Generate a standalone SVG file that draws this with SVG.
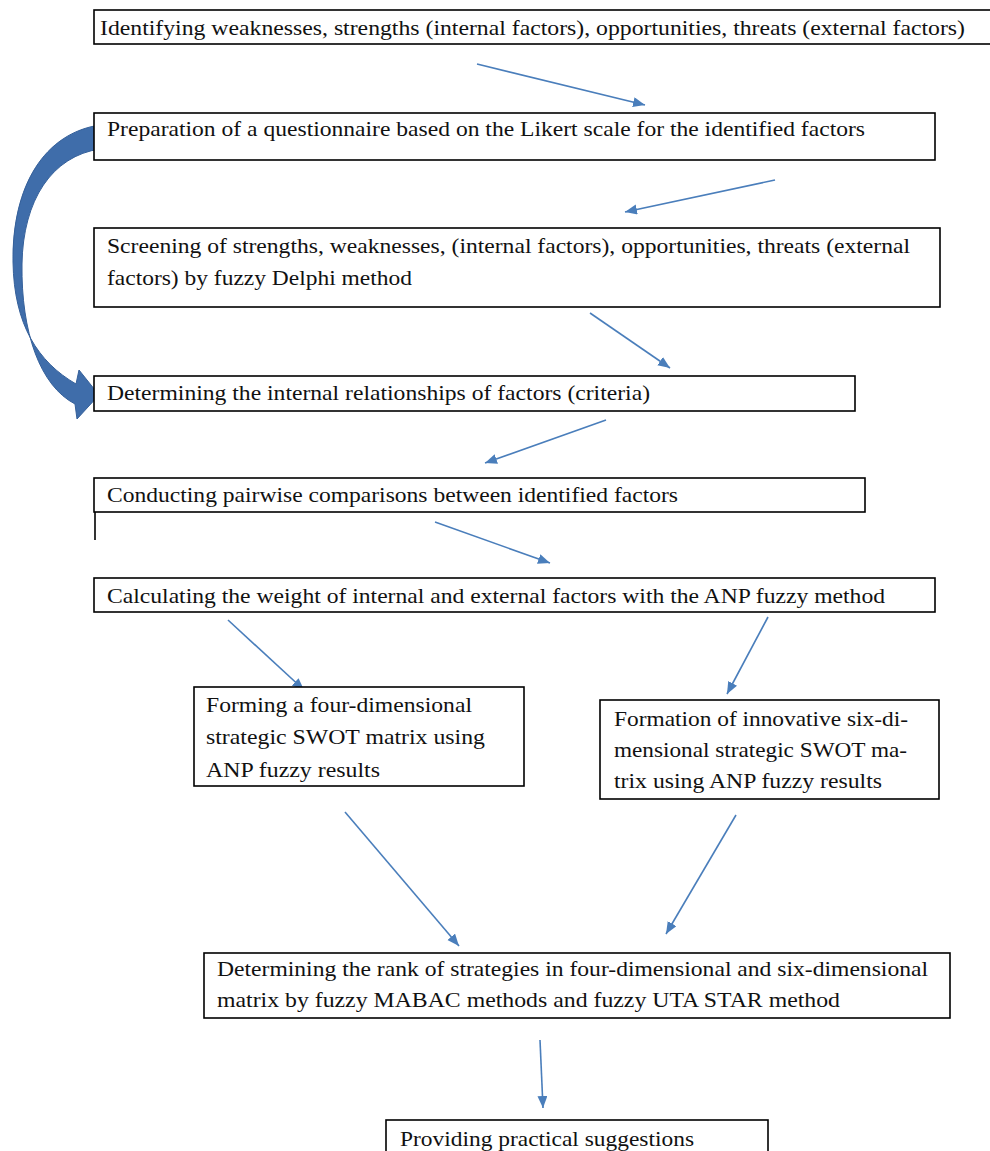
<svg xmlns="http://www.w3.org/2000/svg" width="990" height="1151" viewBox="0 0 990 1151">
<style>
.box{fill:#fff;stroke:#000;stroke-width:1.6}
.t{font-family:"Liberation Serif","Times New Roman",serif;font-size:22px;fill:#111}
.c{stroke:#4A7EBB;stroke-width:1.6;fill:none;marker-end:url(#ah)}
</style>
<defs>
<marker id="ah" markerUnits="userSpaceOnUse" markerWidth="14" markerHeight="12" refX="12" refY="5" orient="auto">
<path d="M0,0 L12,5 L0,10 Z" fill="#4A7EBB"/>
</marker>
</defs>
<rect width="990" height="1151" fill="#fff"/>
<g id="connectors">
<path d="M100,125 C45,133 12,185 13,262 C14,325 38,362 76,384 L79,370 L99,395 L77,419 L75,404 C40,386 21,332 22,264 C23,200 52,156 100,149 Z" fill="#3F6DAA" stroke="#35609A" stroke-width="1"/>
<line class="c" x1="477" y1="64" x2="645" y2="105"/>
<line class="c" x1="775" y1="180" x2="625" y2="212"/>
<line class="c" x1="590" y1="313" x2="670" y2="368"/>
<line class="c" x1="606" y1="420" x2="485" y2="463"/>
<line class="c" x1="435" y1="522" x2="550" y2="563"/>
<line class="c" x1="228" y1="620" x2="304" y2="690"/>
<line class="c" x1="768" y1="617" x2="727" y2="694"/>
<line class="c" x1="345" y1="812" x2="459" y2="946"/>
<line class="c" x1="736" y1="815" x2="666" y2="934"/>
<line class="c" x1="540" y1="1040" x2="543" y2="1108"/>
</g>
<g id="n1"><rect class="box" x="94" y="10" width="910" height="34"/>
<text class="t" x="100" y="35" textLength="865" lengthAdjust="spacingAndGlyphs">Identifying weaknesses, strengths (internal factors), opportunities, threats (external factors)</text></g>
<g id="n2"><rect class="box" x="94" y="113" width="841" height="47"/>
<text class="t" x="107" y="136" textLength="758" lengthAdjust="spacingAndGlyphs">Preparation of a questionnaire based on the Likert scale for the identified factors</text></g>
<g id="n3"><rect class="box" x="94" y="228" width="846" height="79"/>
<text class="t" x="107" y="253" textLength="803" lengthAdjust="spacingAndGlyphs">Screening of strengths, weaknesses, (internal factors), opportunities, threats (external</text>
<text class="t" x="107" y="285" textLength="305" lengthAdjust="spacingAndGlyphs">factors) by fuzzy Delphi method</text></g>
<g id="n4"><rect class="box" x="94" y="376" width="761" height="35"/>
<text class="t" x="107" y="400" textLength="543" lengthAdjust="spacingAndGlyphs">Determining the internal relationships of factors (criteria)</text></g>
<g id="n5"><rect class="box" x="94" y="478" width="771" height="34"/>
<line x1="95" y1="512" x2="95" y2="540" stroke="#000" stroke-width="1.6"/>
<text class="t" x="107" y="502" textLength="571" lengthAdjust="spacingAndGlyphs">Conducting pairwise comparisons between identified factors</text></g>
<g id="n6"><rect class="box" x="94" y="578" width="841" height="34"/>
<text class="t" x="107" y="603" textLength="778" lengthAdjust="spacingAndGlyphs">Calculating the weight of internal and external factors with the ANP fuzzy method</text></g>
<g id="n7"><rect class="box" x="194" y="687" width="330" height="99"/>
<text class="t" x="206" y="712" textLength="266" lengthAdjust="spacingAndGlyphs">Forming a four-dimensional</text>
<text class="t" x="206" y="744" textLength="279" lengthAdjust="spacingAndGlyphs">strategic SWOT matrix using</text>
<text class="t" x="206" y="777" textLength="174" lengthAdjust="spacingAndGlyphs">ANP fuzzy results</text></g>
<g id="n8"><rect class="box" x="600" y="700" width="339" height="99"/>
<text class="t" x="614" y="726" textLength="294" lengthAdjust="spacingAndGlyphs">Formation of innovative six-di-</text>
<text class="t" x="614" y="757" textLength="293" lengthAdjust="spacingAndGlyphs">mensional strategic SWOT ma-</text>
<text class="t" x="614" y="788" textLength="268" lengthAdjust="spacingAndGlyphs">trix using ANP fuzzy results</text></g>
<g id="n9"><rect class="box" x="204" y="953" width="746" height="65"/>
<text class="t" x="217" y="976" textLength="711" lengthAdjust="spacingAndGlyphs">Determining the rank of strategies in four-dimensional and six-dimensional</text>
<text class="t" x="217" y="1007" textLength="623" lengthAdjust="spacingAndGlyphs">matrix by fuzzy MABAC methods and fuzzy UTA STAR method</text></g>
<g id="n10"><rect class="box" x="386" y="1120" width="382" height="50"/>
<text class="t" x="400" y="1146" textLength="294" lengthAdjust="spacingAndGlyphs">Providing practical suggestions</text></g>
</svg>
